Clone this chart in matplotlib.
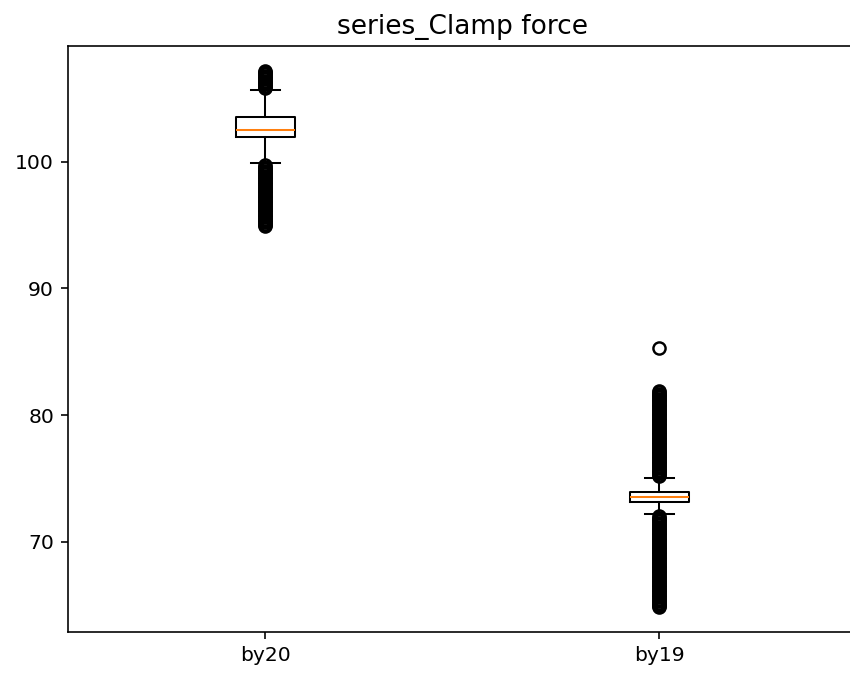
import matplotlib
matplotlib.use("Agg")
import matplotlib.pyplot as plt

# Box statistics
labels = ["by20", "by19"]
medians = [102.50, 73.50]
q1 = [101.97, 73.11]
q3 = [103.55, 73.90]
whis_lo = [99.87, 72.19]
whis_hi = [105.66, 75.05]

# Outliers (dense columns in the reference)
fliers_by20 = [
    105.8, 105.9, 106.0, 106.1, 106.2, 106.3, 106.4, 106.5, 106.6, 106.7,
    106.8, 106.9, 107.0, 107.1, 107.16,
    99.7, 99.6, 99.5, 99.4, 99.3, 99.2, 99.1, 99.0, 98.9, 98.8,
    98.7, 98.6, 98.5, 98.4, 98.3, 98.2, 98.1, 98.0, 97.9, 97.8,
    97.7, 97.6, 97.5, 97.4, 97.3, 97.2, 97.1, 97.0, 96.9, 96.8,
    96.7, 96.6, 96.5, 96.4, 96.3, 96.2, 96.1, 96.0, 95.9, 95.8,
    95.7, 95.6, 95.5, 95.4, 95.3, 95.2, 95.1, 95.0, 94.95,
]
fliers_by19 = [
    85.26,
    75.2, 75.3, 75.4, 75.5, 75.6, 75.7, 75.8, 75.9, 76.0, 76.1,
    76.2, 76.3, 76.4, 76.5, 76.6, 76.7, 76.8, 76.9, 77.0, 77.1,
    77.2, 77.3, 77.4, 77.5, 77.6, 77.7, 77.8, 77.9, 78.0, 78.1,
    78.2, 78.3, 78.4, 78.5, 78.6, 78.7, 78.8, 78.9, 79.0, 79.1,
    79.2, 79.3, 79.4, 79.5, 79.6, 79.7, 79.8, 79.9, 80.0, 80.1,
    80.2, 80.3, 80.4, 80.5, 80.6, 80.7, 80.8, 80.9, 81.0, 81.1,
    81.2, 81.3, 81.4, 81.5, 81.6, 81.7, 81.8, 81.89,
    72.0, 71.9, 71.8, 71.7, 71.6, 71.5, 71.4, 71.3, 71.2, 71.1,
    71.0, 70.9, 70.8, 70.7, 70.6, 70.5, 70.4, 70.3, 70.2, 70.1,
    70.0, 69.9, 69.8, 69.7, 69.6, 69.5, 69.4, 69.3, 69.2, 69.1,
    69.0, 68.9, 68.8, 68.7, 68.6, 68.5, 68.4, 68.3, 68.2, 68.1,
    68.0, 67.9, 67.8, 67.7, 67.6, 67.5, 67.4, 67.3, 67.2, 67.1,
    67.0, 66.9, 66.8, 66.7, 66.6, 66.5, 66.4, 66.3, 66.2, 66.1,
    66.0, 65.9, 65.8, 65.7, 65.6, 65.5, 65.4, 65.3, 65.2, 65.1,
    65.0, 64.9, 64.85,
]
fliers = [fliers_by20, fliers_by19]

stats = []
for i in range(len(labels)):
    stats.append({
        "label": labels[i],
        "med": medians[i],
        "q1": q1[i],
        "q3": q3[i],
        "whislo": whis_lo[i],
        "whishi": whis_hi[i],
        "fliers": fliers[i],
    })

fig = plt.figure(figsize=(850 / 146, 677 / 146), dpi=146)
ax = fig.add_axes([68.3 / 850, 45.3 / 677, 788 / 850, 585.7 / 677])
ax.bxp(stats, flierprops={"markeredgewidth": 1.2})
ax.set_ylim(62.9, 109.13)
ax.set_xlim(0.5, 2.5)
ax.set_title("series_Clamp force", fontsize=13)

fig.savefig("out.png", dpi=146)
